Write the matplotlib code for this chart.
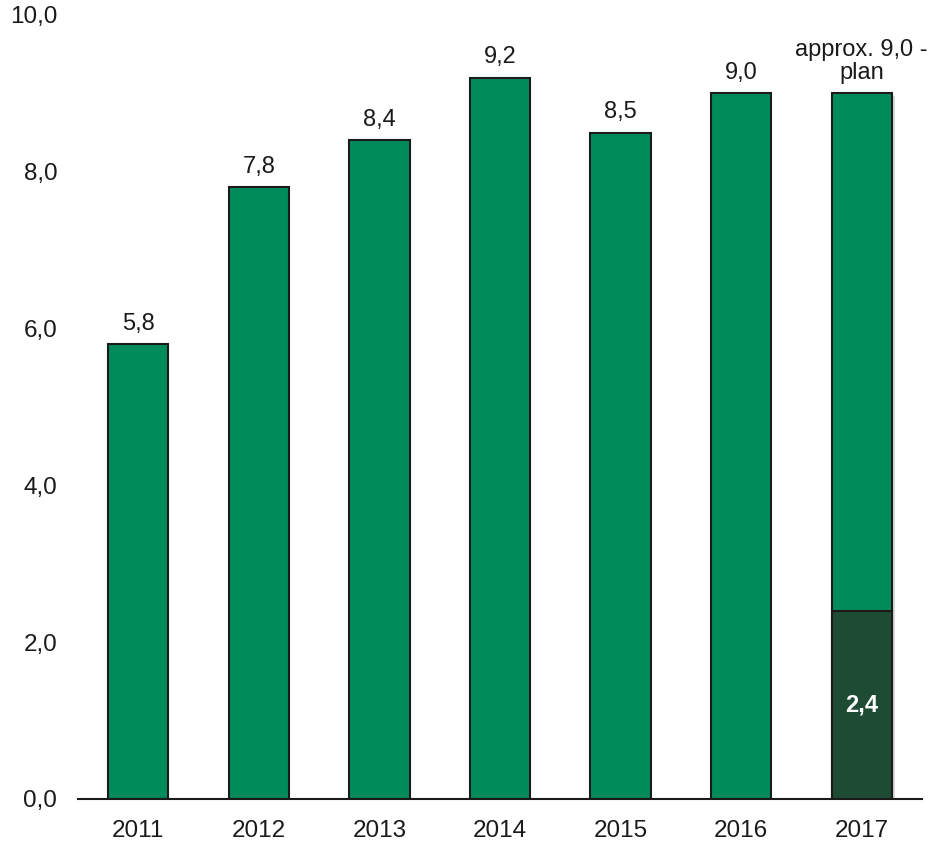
import matplotlib.pyplot as plt
import matplotlib.patheffects as pe

years = ['2011', '2012', '2013', '2014', '2015', '2016', '2017']
values = [5.8, 7.8, 8.4, 9.2, 8.5, 9.0, 9.0]
labels = ['5,8', '7,8', '8,4', '9,2', '8,5', '9,0', 'approx. 9,0 -\nplan']
actual_2017 = 2.4
actual_label = '2,4'
y_ticks = [0, 2, 4, 6, 8, 10]
y_tick_labels = ['0,0', '2,0', '4,0', '6,0', '8,0', '10,0']

green = '#008c5a'
dark_green = '#1e4b33'

plt.rcParams['font.family'] = ['Liberation Sans', 'DejaVu Sans']

fig = plt.figure(figsize=(9.3, 8.42), dpi=100)
ax = fig.add_axes([78 / 930, 43 / 842, 844 / 930, 784 / 842])

x = list(range(len(years)))
bars = ax.bar(x, values, width=0.5, color=green, edgecolor='#1a1a1a', linewidth=1.5, zorder=2)

# shadow on the plan bar
bars[-1].set_path_effects([pe.SimplePatchShadow(offset=(2, -2), shadow_rgbFace='black', alpha=0.15), pe.Normal()])

ax.bar(x[-1], actual_2017, width=0.5, color=dark_green, edgecolor='#1a1a1a', linewidth=1.5, zorder=3)

for i, (v, lab) in enumerate(zip(values, labels)):
    ax.annotate(lab, (x[i], v), xytext=(0, 7), textcoords='offset points',
                ha='center', va='bottom', fontsize=17, color='#1a1a1a', linespacing=1.05)

ax.text(x[-1], actual_2017 / 2, actual_label, ha='center', va='center',
        fontsize=17, fontweight='bold', color='white', zorder=4)

ax.set_xlim(-0.5, len(years) - 0.5)
ax.set_ylim(0, 10)
ax.set_xticks(x)
ax.set_xticklabels(years)
ax.set_yticks(y_ticks)
ax.set_yticklabels(y_tick_labels)
ax.tick_params(axis='both', length=0, labelsize=17.5, labelcolor='#1a1a1a')
ax.tick_params(axis='x', pad=15)
ax.tick_params(axis='y', pad=15)

for s in ['top', 'right', 'left']:
    ax.spines[s].set_visible(False)
ax.spines['bottom'].set_linewidth(1.5)
ax.spines['bottom'].set_color('#1a1a1a')

fig.savefig('out.png', dpi=100)
